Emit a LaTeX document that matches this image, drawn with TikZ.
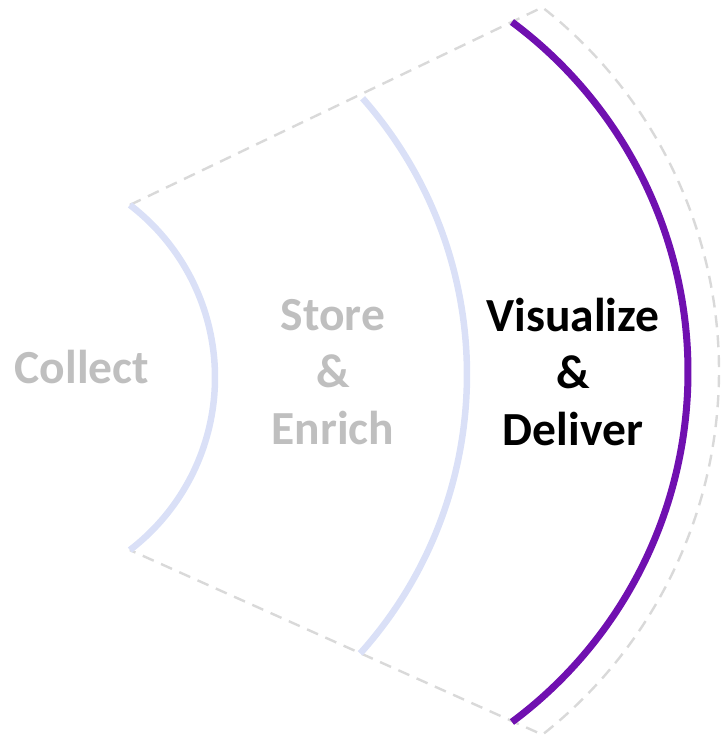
\documentclass[tikz,border=0pt]{standalone}
\usepackage{fontspec}
\setmainfont{Carlito}
\usepackage{xcolor}
\usepackage{tikz}
\usetikzlibrary{calc}

\definecolor{stagegray}{HTML}{BFBFBF}
\definecolor{arcblue}{HTML}{DAE0F7}
\definecolor{arcpurple}{HTML}{7010B0}
\definecolor{guidegray}{HTML}{D9D9D9}
\newcommand{\stagefont}{\fontsize{47.5}{57}\selectfont\bfseries}

\begin{document}
\begin{tikzpicture}[
        x=1pt, y=-1pt,
        stage/.style={font=\stagefont, align=center, text=stagegray, inner sep=0pt},
        current/.style={stage, text=black},
        guide/.style={draw=guidegray, line width=2.4pt, dash pattern=on 12pt off 8pt},
        ring/.style={draw=arcblue, line width=6.5pt},
        ringactive/.style={draw=arcpurple, line width=7pt}
        ]
        \useasboundingbox (0,0) rectangle (721,741);
        % centres of the arcs
        \coordinate (c1) at (-2.5,377.5);
        \coordinate (c2) at (49.3,374.5);
        \coordinate (c3) at (252,372);
        \coordinate (c4) at (256.2,371);
        % end points
        \coordinate (t1) at ($(c1)+(-52.5:217.5)$);
        \coordinate (b1) at ($(c1)+(52.5:217.5)$);
        \coordinate (t4) at ($(c4)+(-51.8:462.8)$);
        \coordinate (b4) at ($(c4)+(51.8:462.8)$);
        % dashed outline
        \draw[guide] (t1) -- (t4) arc[start angle=-51.8, end angle=51.8, radius=462.8] -- (b1);
        % arcs
        \draw[ring] (t1) arc[start angle=-52.5, end angle=52.5, radius=217.5];
        \draw[ring] ($(c2)+(-41.4:417.7)$) arc[start angle=-41.4, end angle=41.9, radius=417.7];
        \draw[ringactive] ($(c3)+(-53.4:436)$) arc[start angle=-53.4, end angle=53.4, radius=436];
        % labels
        \node[stage] (collect) at (82,367) {Collect};
        \node[stage] (store) at (333,372) {Store\\\&\\Enrich};
        \node[current] (deliver) at (573,372) {Visualize\\\&\\Deliver};
\end{tikzpicture}
\end{document}
